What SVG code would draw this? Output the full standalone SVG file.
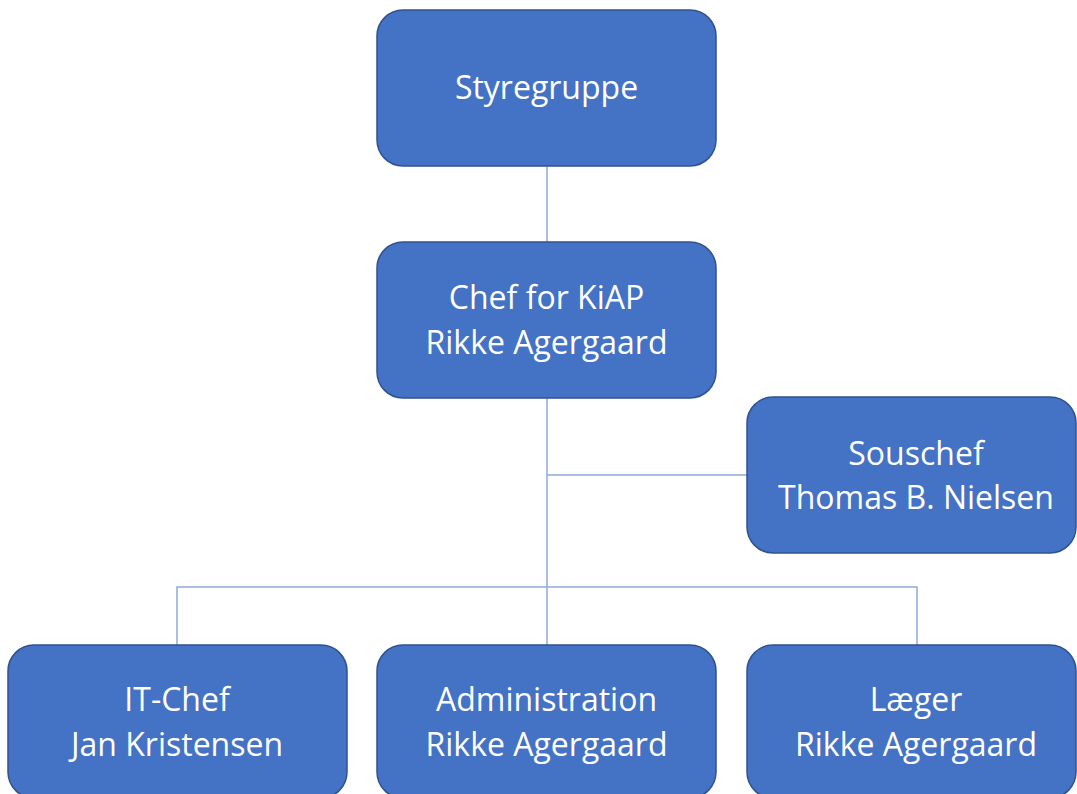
<svg xmlns="http://www.w3.org/2000/svg" width="1077" height="794" viewBox="0 0 1077 794">
<style>
.box{fill:#4472C4;stroke:#2F528F;stroke-width:1.5}
.lbl{fill:#FFFFFF;font-family:"Open Sans","Noto Sans","Liberation Sans",sans-serif;font-size:32px;text-anchor:middle}
.conn{fill:none;stroke:#8FAADC;stroke-width:1.5}
</style>
<rect width="1077" height="794" fill="#FFFFFF"/>
<g id="connectors">
<line class="conn" x1="547" y1="166" x2="547" y2="242"/>
<line class="conn" x1="547" y1="397" x2="547" y2="645"/>
<line class="conn" x1="547" y1="475" x2="747" y2="475"/>
<polyline class="conn" points="177,645 177,587 917,587 917,645"/>
</g>
<g id="styregruppe">
<rect class="box" x="377" y="10" width="339" height="156" rx="26"/>
<text class="lbl" x="546.5" y="99">Styregruppe</text>
</g>
<g id="chef">
<rect class="box" x="377" y="242" width="339" height="156" rx="26"/>
<text class="lbl" x="546.5" y="309">Chef for KiAP</text>
<text class="lbl" x="546.5" y="354">Rikke Agergaard</text>
</g>
<g id="souschef">
<rect class="box" x="747" y="397" width="329" height="156" rx="26"/>
<text class="lbl" x="916" y="465">Souschef</text>
<text class="lbl" x="916" y="509">Thomas B. Nielsen</text>
</g>
<g id="itchef">
<rect class="box" x="8" y="645" width="339" height="153" rx="26"/>
<text class="lbl" x="177" y="711">IT-Chef</text>
<text class="lbl" x="177" y="756">Jan Kristensen</text>
</g>
<g id="administration">
<rect class="box" x="377" y="645" width="339" height="153" rx="26"/>
<text class="lbl" x="546.5" y="711">Administration</text>
<text class="lbl" x="546.5" y="756">Rikke Agergaard</text>
</g>
<g id="laeger">
<rect class="box" x="747" y="645" width="329" height="153" rx="26"/>
<text class="lbl" x="916" y="711">Læger</text>
<text class="lbl" x="916" y="756">Rikke Agergaard</text>
</g>
</svg>
